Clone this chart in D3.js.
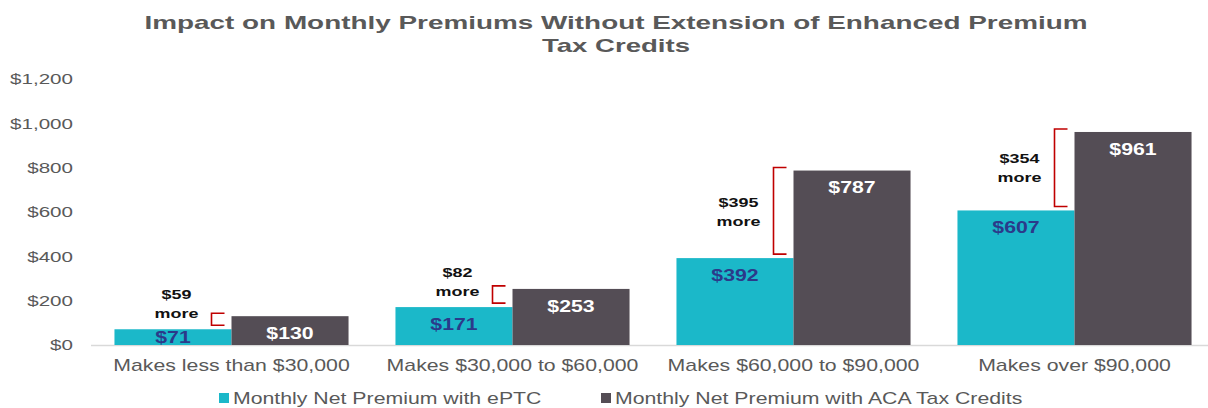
<!DOCTYPE html>
<html>
<head>
<meta charset="utf-8">
<script src="https://cdn.jsdelivr.net/npm/d3@7"></script>
<style>
  body { margin: 0; background: #fff; }
  text { font-family: "Liberation Sans", Arial, sans-serif; }
</style>
</head>
<body>
<div id="chart-area"></div>
<script>
const categories = ["Makes less than $30,000", "Makes $30,000 to $60,000", "Makes $60,000 to $90,000", "Makes over $90,000"];
const seriesNames = ["Monthly Net Premium with ePTC", "Monthly Net Premium with ACA Tax Credits"];
const eptcValues = [71, 171, 392, 607];
const acaValues = [130, 253, 787, 961];
const yTicks = [0, 200, 400, 600, 800, 1000, 1200];
const titleLines = ["Impact on Monthly Premiums Without Extension of Enhanced Premium", "Tax Credits"];

const width = 1208, height = 408;
const sx = 1.33; // the source picture is stretched sideways
const colors = ["#1bb8c9", "#544d55"];

const data = categories.map((c, i) => ({ cat: c, eptc: eptcValues[i], aca: acaValues[i] }));

const svg = d3.select("#chart-area").append("svg")
  .attr("width", width).attr("height", height);

function place(sel, x, y) {
  return sel.attr("transform", `translate(${x},${y}) scale(${sx},1)`);
}

// title
const titleWidths = [943, 148];
titleLines.forEach((t, i) => {
  svg.append("text")
    .attr("x", 616).attr("y", 22 + i * 23)
    .attr("dy", "0.35em")
    .attr("text-anchor", "middle")
    .attr("font-size", "19px").attr("font-weight", "bold")
    .attr("fill", "#595959")
    .attr("textLength", titleWidths[i])
    .attr("lengthAdjust", "spacingAndGlyphs")
    .text(t);
});

const x0 = d3.scaleBand().domain(categories).range([91, 1215]).paddingInner(0.167).paddingOuter(0.0835);
const x1 = d3.scaleBand().domain(["eptc", "aca"]).range([0, x0.bandwidth()]);
const y = d3.scaleLinear().domain([0, 1200]).range([345, 79]);

// y axis labels
const yAxis = d3.axisLeft(y).tickValues(yTicks).tickSize(0)
  .tickFormat(d => "$" + d3.format(",")(d));
const yAxisGroup = svg.append("g").attr("transform", "translate(91,0)").call(yAxis);
yAxisGroup.select(".domain").remove();
yAxisGroup.selectAll("text")
  .attr("x", 0)
  .attr("transform", "translate(-18,0) scale(" + sx + ",1)")
  .attr("font-size", "15.5px").attr("fill", "#595959")
  .attr("font-family", "Liberation Sans, Arial, sans-serif");

// x axis line
svg.append("line")
  .attr("x1", 91).attr("x2", 1208)
  .attr("y1", y(0) + 0.5).attr("y2", y(0) + 0.5)
  .attr("stroke", "#d9d9d9").attr("stroke-width", 1.5);

const groups = svg.selectAll(".grp").data(data).enter().append("g")
  .attr("class", "grp")
  .attr("transform", d => `translate(${x0(d.cat)},0)`);

groups.selectAll("rect")
  .data(d => [{ key: "eptc", v: d.eptc }, { key: "aca", v: d.aca }])
  .enter().append("rect")
  .attr("x", d => x1(d.key))
  .attr("y", d => y(d.v))
  .attr("width", x1.bandwidth())
  .attr("height", d => y(0) - y(d.v))
  .attr("fill", (d, i) => colors[i]);

// value labels
groups.each(function(d) {
  const g = d3.select(this);
  [["eptc", d.eptc, "#2b3a8a"], ["aca", d.aca, "#ffffff"]].forEach(([k, v, col]) => {
    const cy = Math.min(y(v) + 17, y(0) - 8);
    place(g.append("text"), x1(k) + x1.bandwidth() / 2, cy)
      .attr("dy", "0.35em")
      .attr("text-anchor", "middle")
      .attr("font-size", "16px").attr("font-weight", "bold")
      .attr("fill", col)
      .text("$" + v);
  });

  // bracket showing the difference
  const bx = x1("aca") - 20;
  const top = y(d.aca) - 3, bottom = y(d.eptc) - 4;
  g.append("path")
    .attr("d", `M${bx + 13},${top}H${bx}V${bottom}H${bx + 13}`)
    .attr("fill", "none").attr("stroke", "#c00000").attr("stroke-width", 1.6);

  const mid = Math.min((top + bottom) / 2, y(d.eptc) - 26);
  place(g.append("text"), bx - 35, mid - 9)
    .attr("dy", "0.35em").attr("text-anchor", "middle")
    .attr("font-size", "13.5px").attr("font-weight", "bold").attr("fill", "#111")
    .text("$" + (d.aca - d.eptc));
  place(g.append("text"), bx - 35, mid + 10)
    .attr("dy", "0.35em").attr("text-anchor", "middle")
    .attr("font-size", "13.5px").attr("font-weight", "bold").attr("fill", "#111")
    .text("more");
});

// category labels
categories.forEach(c => {
  place(svg.append("text"), x0(c) + x0.bandwidth() / 2, 365)
    .attr("dy", "0.35em").attr("text-anchor", "middle")
    .attr("font-size", "16px").attr("fill", "#595959")
    .text(c);
});

// legend
const legendX = [219, 601];
seriesNames.forEach((s, i) => {
  svg.append("rect")
    .attr("x", legendX[i]).attr("y", 393)
    .attr("width", 10).attr("height", 10)
    .attr("fill", colors[i]);
  place(svg.append("text"), legendX[i] + 14, 398)
    .attr("dy", "0.35em")
    .attr("font-size", "16px").attr("fill", "#595959")
    .text(s);
});
</script>
</body>
</html>
